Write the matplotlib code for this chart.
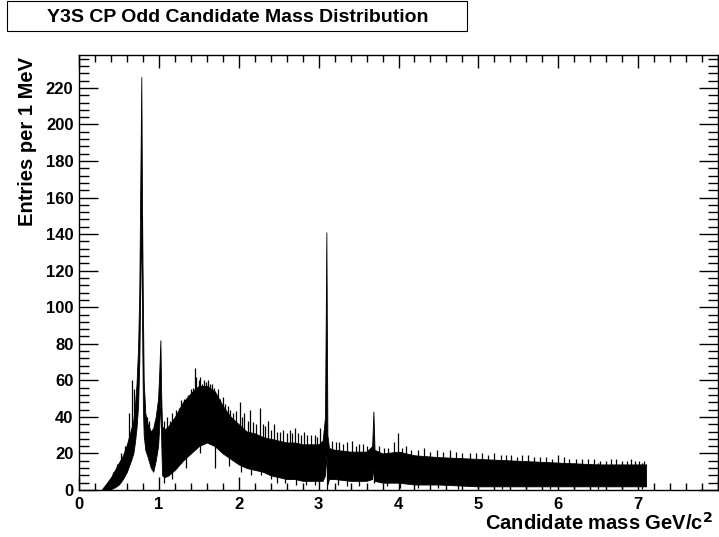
import numpy as np
import matplotlib.pyplot as plt
from matplotlib.ticker import MultipleLocator

# candidate mass (GeV/c^2) with the lower / upper edges of the 1 MeV bin contents
mass = [0.28, 0.35, 0.40, 0.45, 0.50, 0.55, 0.60, 0.65, 0.68, 0.70, 0.72, 0.74,
        0.755, 0.77, 0.780, 0.79, 0.80, 0.81, 0.83, 0.86, 0.90, 0.93, 0.96, 0.99,
        1.005, 1.019, 1.03, 1.04, 1.07, 1.12, 1.20, 1.30, 1.40, 1.50, 1.60, 1.70,
        1.80, 1.90, 2.00, 2.10, 2.20, 2.30, 2.40, 2.50, 2.60, 2.70, 2.80, 2.90,
        3.00, 3.05, 3.08, 3.097, 3.11, 3.13, 3.20, 3.40, 3.60, 3.67, 3.686, 3.70,
        3.80, 4.00, 4.20, 4.50, 5.00, 5.50, 6.00, 6.50, 7.00, 7.10]
low = [0, 0, 0.5, 1.5, 3, 6, 10, 16, 20, 26, 34, 46,
       70, 120, 150, 90, 45, 30, 22, 18, 12, 10, 16, 24,
       35, 50, 25, 8, 7, 8, 11, 16, 20, 24, 26, 24,
       20, 17, 14, 12, 11, 10, 8, 7, 6, 6, 5, 5,
       5, 5, 8, 20, 3, 6, 6, 5, 5, 6, 12, 5,
       4, 4, 3, 3, 2, 2, 2, 2, 2, 2]
high = [0, 4, 7, 11, 15, 19, 25, 33, 38, 46, 58, 78,
        110, 180, 226, 150, 100, 60, 42, 36, 32, 34, 40, 50,
        65, 82, 50, 35, 33, 35, 40, 48, 53, 57, 57, 54,
        46, 40, 36, 32, 31, 29, 28, 27, 26, 26, 25, 25,
        25, 27, 40, 141, 30, 23, 22, 21, 21, 24, 43, 22,
        20, 21, 19, 18, 17, 16, 15, 14, 14, 14]

# single bins sticking out above the band
spike_mass = [0.42, 0.47, 0.52, 0.57, 0.62, 0.66, 0.69, 0.85, 0.88, 0.95, 1.06,
              1.10, 1.14, 1.17, 1.22, 1.25, 1.28, 1.32, 1.36, 1.40, 1.43, 1.45,
              1.47, 1.50, 1.52, 1.54, 1.56, 1.59, 1.62, 1.64, 1.66, 1.69, 1.72,
              1.74, 1.77, 1.80, 1.83, 1.86, 1.89, 1.93, 1.97, 2.01, 2.04, 2.07,
              2.11, 2.14, 2.18, 2.22, 2.26, 2.30, 2.33, 2.36, 2.40, 2.44, 2.48,
              2.52, 2.56, 2.60, 2.64, 2.67, 2.70, 2.74, 2.78, 2.82, 2.86, 2.90,
              2.95, 2.98, 3.02, 3.17, 3.22, 3.26, 3.31, 3.36, 3.42, 3.47, 3.51,
              3.55, 3.60, 3.76, 3.82, 3.87, 3.94, 3.99, 4.05, 4.10, 4.16, 4.24,
              4.32, 4.40, 4.48, 4.56, 4.65, 4.72, 4.80, 4.90, 4.97, 5.05, 5.12,
              5.20, 5.28, 5.34, 5.41, 5.48, 5.55, 5.62, 5.70, 5.77, 5.85, 5.92,
              6.00, 6.07, 6.14, 6.22, 6.30, 6.37, 6.45, 6.52, 6.60, 6.66, 6.72,
              6.80, 6.86, 6.91, 6.96, 7.01, 7.07]
spike_high = [10, 14, 20, 24, 42, 60, 55, 40, 38, 38, 38,
              40, 38, 42, 44, 45, 49, 50, 52, 55, 56, 67,
              62, 60, 62, 58, 60, 59, 60, 58, 58, 56, 52,
              55, 50, 51, 47, 46, 44, 42, 43, 48, 40, 42,
              38, 44, 37, 36, 45, 36, 35, 38, 33, 36, 32,
              32, 33, 31, 33, 31, 34, 31, 30, 32, 30, 30,
              30, 29, 34, 27, 26, 26, 25, 26, 27, 24, 25,
              25, 24, 24, 23, 23, 26, 31, 23, 24, 22, 22,
              23, 21, 22, 21, 22, 21, 20, 20, 20, 20, 19,
              20, 19, 19, 19, 18, 19, 19, 18, 18, 18, 17,
              19, 18, 17, 17, 17, 17, 17, 16, 16, 17, 17,
              16, 16, 17, 16, 16, 16]
# single bins dipping below the band
dip_mass = [1.06, 1.16, 1.34, 1.52, 1.70, 1.88, 2.03, 2.15, 2.28, 2.40, 2.48,
            2.58, 2.72, 2.84, 2.96, 3.10, 3.24, 3.36, 3.50, 3.69, 3.85, 4.02,
            4.25, 4.50, 4.75, 5.00, 5.30, 5.60, 5.90, 6.20, 6.50, 6.80, 7.05]
dip_low = [4, 6, 12, 20, 12, 13, 10, 8, 8, 6, 4,
           4, 3, 3, 3, 0, 3, 2, 2, 4, 2, 1,
           1, 1, 0.5, 0.5, 0.5, 0.5, 0.5, 0.5, 0.5, 0.5, 0.5]

x_ticks = [0, 1, 2, 3, 4, 5, 6, 7, 8]
x_ticklabels = ['0', '1', '2', '3', '4', '5', '6', '7', '']

plt.rcParams['font.family'] = ['Liberation Sans', 'DejaVu Sans']
plt.rcParams['font.weight'] = 'bold'

fig = plt.figure(figsize=(7.19, 5.37), dpi=100)
ax = fig.add_axes([79 / 719, 47 / 537, 639 / 719, 435 / 537])

ax.fill_between(mass, low, high, color='black', lw=0.6, edgecolor='black')
ax.vlines(spike_mass, [h * 0.5 for h in spike_high], spike_high, color='black', lw=0.9)
ax.vlines(dip_mass, dip_low, [d + 14 for d in dip_low], color='black', lw=0.9)

ax.set_xlim(0, 8)
ax.set_ylim(0, 238)
ax.set_xticks(x_ticks)
ax.set_xticklabels(x_ticklabels)
ax.xaxis.set_minor_locator(MultipleLocator(0.2))
ax.yaxis.set_major_locator(MultipleLocator(20))
ax.yaxis.set_minor_locator(MultipleLocator(4))
ax.tick_params(axis='both', which='both', direction='in', top=True, right=True,
               width=1.0, labelsize=12)
ax.tick_params(axis='x', which='major', length=9.5, pad=5)
ax.tick_params(axis='x', which='minor', length=4.8)
ax.tick_params(axis='y', which='major', length=13.5, pad=4)
ax.tick_params(axis='y', which='minor', length=7)
for lab in ax.get_xticklabels() + ax.get_yticklabels():
    lab.set_fontweight('bold')
for sp in ax.spines.values():
    sp.set_linewidth(1.0)

# axis titles, right / top aligned like ROOT
fig.text(713 / 719, 1 - 530 / 537, 'Candidate mass GeV/c$^{\\mathbf{2}}$',
         ha='right', va='baseline', fontsize=14.5, fontweight='bold')
fig.text(28 / 719, 1 - 57 / 537, 'Entries per 1 MeV', rotation=90,
         ha='center', va='top', fontsize=14.5, fontweight='bold')

# title box in the upper left corner
title = fig.text(47 / 719, 1 - 17 / 537, 'Y3S CP Odd Candidate Mass Distribution',
                 ha='left', va='center', fontsize=14, fontweight='bold')
fig.canvas.draw()
bb = title.get_window_extent()
box_right = bb.x1 + 38
fig.patches.append(plt.Rectangle((7 / 719, 1 - 31 / 537), (box_right - 7) / 719, 30 / 537,
                                 transform=fig.transFigure, fill=False,
                                 edgecolor='black', lw=0.8))

fig.savefig('out.png', dpi=100)
